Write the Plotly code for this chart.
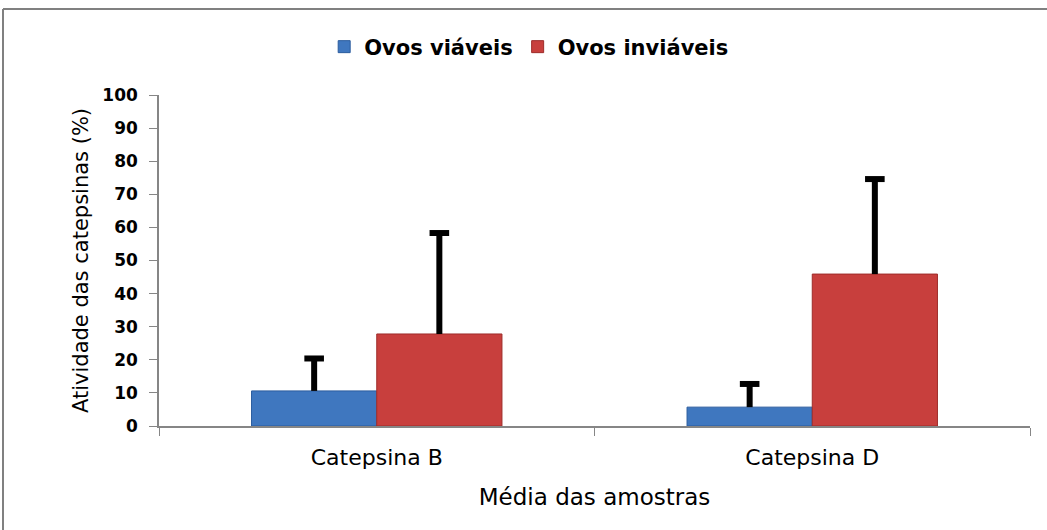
import plotly.graph_objects as go

categories = ['Catepsina B', 'Catepsina D']
viaveis = [10.6, 5.7]
viaveis_err = [9.8, 7.0]
inviaveis = [27.8, 45.9]
inviaveis_err = [30.5, 28.7]

FONT = 'DejaVu Sans'
W, H = 1047, 530
ML, MR, MT, MB = 159, 17, 95, 104


def add_series(name, vals, errs, color, edge, group):
    # bar with a plain whisker (no caps), cap drawn as a grouped scatter marker on top
    fig.add_trace(go.Bar(x=categories, y=vals, name=name, offsetgroup=group,
                         marker=dict(color=color, line=dict(color=edge, width=1)),
                         error_y=dict(type='data', array=errs, symmetric=False,
                                      arrayminus=[0] * len(errs), color='black',
                                      thickness=6, width=0)))
    fig.add_trace(go.Scatter(x=categories, y=[v + e for v, e in zip(vals, errs)],
                             mode='markers', offsetgroup=group, showlegend=False,
                             hoverinfo='skip',
                             marker=dict(symbol='line-ew-open', size=14, color='black',
                                         line=dict(color='black', width=6))))


fig = go.Figure()
add_series('Ovos viáveis', viaveis, viaveis_err, '#3F77BF', '#2B5C9E', 'v')
add_series('Ovos inviáveis', inviaveis, inviaveis_err, '#C83F3D', '#9E2C2A', 'i')

pw = W - ML - MR
ph = H - MT - MB
# outer chart frame (cropped on right and bottom in the original)
fx0 = (3 - ML) / pw
fy1 = (H - MB - 9) / ph
fig.add_shape(type='line', xref='paper', yref='paper', x0=fx0, x1=(W + 5 - ML) / pw,
              y0=fy1, y1=fy1, line=dict(color='#808080', width=2))
fig.add_shape(type='line', xref='paper', yref='paper', x0=fx0, x1=fx0,
              y0=fy1, y1=(H - MB - H - 5) / ph, line=dict(color='#808080', width=2))

fig.update_layout(
    width=W, height=H,
    margin=dict(l=ML, r=MR, t=MT, b=MB, autoexpand=False),
    paper_bgcolor='white', plot_bgcolor='white',
    barmode='group', bargap=0.425, bargroupgap=0,
    scattermode='group', scattergap=0.425,
    font=dict(family=FONT, color='black'),
    showlegend=True,
    legend=dict(orientation='h', x=0.425, xanchor='center', y=(H - MB - 47) / ph, yanchor='middle',
                font=dict(size=21, family=FONT, weight='bold'), itemwidth=30),
    xaxis=dict(showline=True, linecolor='#868686', linewidth=1.5,
               ticks='outside', tickson='boundaries', ticklen=8, tickcolor='#868686',
               tickfont=dict(size=22), ticklabelstandoff=11,
               title=dict(text='Média das amostras', font=dict(size=23), standoff=20)),
    yaxis=dict(range=[0, 100], dtick=10, showline=True, linecolor='#868686', linewidth=1.5,
               ticks='outside', ticklen=8, tickcolor='#868686', showgrid=False,
               tickfont=dict(size=17, weight='bold'), ticklabelstandoff=8,
               title=dict(text='Atividade das catepsinas (%)', font=dict(size=21), standoff=8)),
)

fig.write_html('out.html', config={'displayModeBar': False},
               post_script="document.body.style.margin='0';")
